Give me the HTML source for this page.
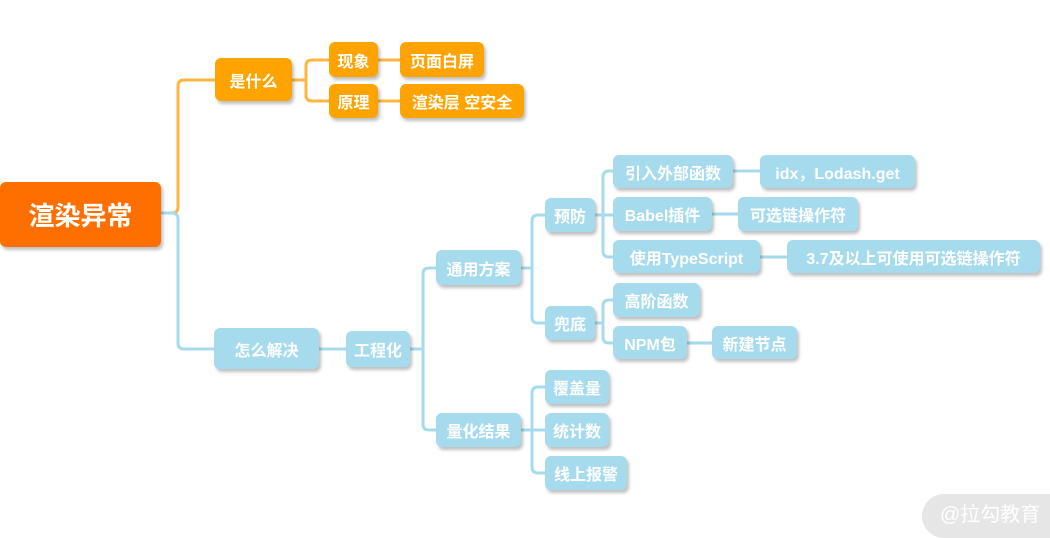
<!DOCTYPE html>
<html><head><meta charset="utf-8"><style>
body{margin:0;width:1050px;height:532px;background:#fff;position:relative;overflow:hidden;font-family:"Liberation Sans","Noto Sans CJK SC",sans-serif;}
.n{position:absolute;box-sizing:border-box;color:#fff;font-weight:bold;font-size:16px;display:flex;align-items:center;justify-content:center;border-radius:6px;box-shadow:2px 3px 3px rgba(0,0,0,0.25);white-space:nowrap;}
.o{background:#ffa300;}
.b{background:#a6dbee;}
svg{position:absolute;left:0;top:0;}
</style></head><body>
<svg width="1050" height="532" fill="none" stroke-width="3" stroke-linecap="round">
<g stroke="#ffb640">
<path d="M160 213 H172 Q178 213 178 207 V86 Q178 80 184 80 H215"/>
<path d="M292 80 H306 M306 80 V66 Q306 60 312 60 H329 M306 80 V95 Q306 101 312 101 H329"/>
<path d="M378 60 H400 M378 101 H400"/>
</g>
<g stroke="#a6dbee">
<path d="M160 213 H172 Q178 213 178 219 V343 Q178 349 184 349 H215"/>
<path d="M319 349 H346"/>
<path d="M410 349 H423 M423 349 V274 Q423 268 429 268 H436 M423 349 V424 Q423 430 429 430 H436"/>
<path d="M521 268 H532 M532 268 V221 Q532 215 538 215 H545 M532 268 V317 Q532 323 538 323 H545"/>
<path d="M595 215 H603 M603 215 V177 Q603 171 609 171 H613 M603 215 H613 M603 215 V251 Q603 257 609 257 H613"/>
<path d="M595 323 H603 M603 323 V306 Q603 300 609 300 H613 M603 323 V337 Q603 343 609 343 H613"/>
<path d="M733 171 H760 M712 214 H738 M760 257 H787 M687 343 H712"/>
<path d="M521 430 H532 M532 430 V393 Q532 387 538 387 H545 M532 430 H545 M532 430 V467 Q532 473 538 473 H545"/>
</g>
</svg>
<div class="n" style="left:0;top:182px;width:161px;height:65px;background:#ff6f00;font-size:26px;">渲染异常</div>
<div class="n o" style="left:215px;top:58px;width:77px;height:43px;">是什么</div>
<div class="n o" style="left:329px;top:42px;width:49px;height:35px;">现象</div>
<div class="n o" style="left:400px;top:42px;width:84px;height:35px;">页面白屏</div>
<div class="n o" style="left:329px;top:84px;width:49px;height:34px;">原理</div>
<div class="n o" style="left:400px;top:84px;width:124px;height:34px;">渲染层 空安全</div>
<div class="n b" style="left:214px;top:328px;width:105px;height:41px;">怎么解决</div>
<div class="n b" style="left:346px;top:331px;width:64px;height:36px;">工程化</div>
<div class="n b" style="left:436px;top:250px;width:85px;height:35px;">通用方案</div>
<div class="n b" style="left:545px;top:198px;width:50px;height:34px;">预防</div>
<div class="n b" style="left:545px;top:306px;width:50px;height:34px;">兜底</div>
<div class="n b" style="left:613px;top:155px;width:120px;height:33px;">引入外部函数</div>
<div class="n b" style="left:760px;top:155px;width:155px;height:33px;">idx，Lodash.get</div>
<div class="n b" style="left:613px;top:197px;width:99px;height:34px;">Babel插件</div>
<div class="n b" style="left:738px;top:197px;width:120px;height:34px;">可选链操作符</div>
<div class="n b" style="left:613px;top:240px;width:147px;height:33px;">使用TypeScript</div>
<div class="n b" style="left:787px;top:240px;width:253px;height:33px;">3.7及以上可使用可选链操作符</div>
<div class="n b" style="left:613px;top:283px;width:87px;height:34px;">高阶函数</div>
<div class="n b" style="left:613px;top:326px;width:74px;height:33px;">NPM包</div>
<div class="n b" style="left:712px;top:326px;width:85px;height:33px;">新建节点</div>
<div class="n b" style="left:436px;top:413px;width:85px;height:34px;">量化结果</div>
<div class="n b" style="left:545px;top:370px;width:64px;height:34px;">覆盖量</div>
<div class="n b" style="left:545px;top:413px;width:64px;height:34px;">统计数</div>
<div class="n b" style="left:545px;top:456px;width:82px;height:34px;">线上报警</div>
<div style="position:absolute;left:922px;top:494px;width:160px;height:44px;border-radius:22px;background:#e6e6e6;color:#fff;font-size:20px;line-height:42px;padding-left:18px;box-sizing:border-box;font-family:'Liberation Sans','Noto Sans CJK SC',sans-serif;">@拉勾教育</div>
</body></html>
